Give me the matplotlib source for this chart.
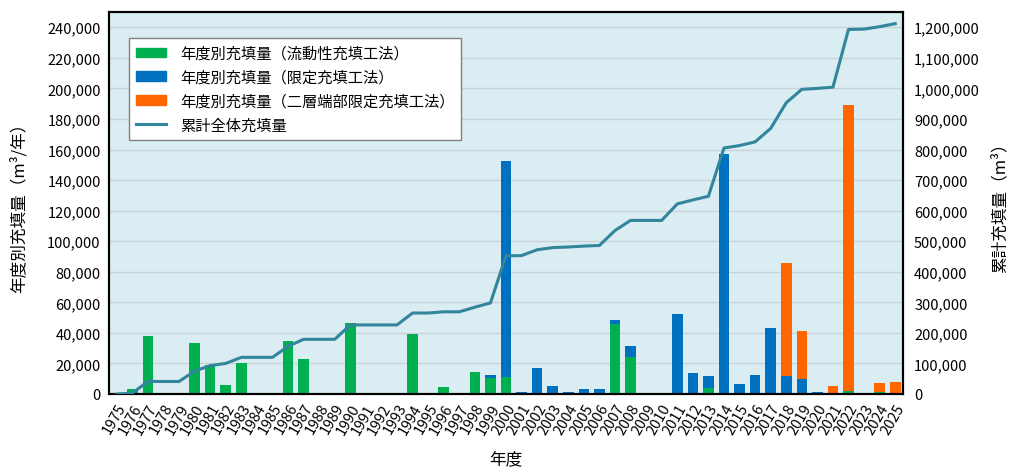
import matplotlib
matplotlib.use("Agg")
import matplotlib.pyplot as plt
import numpy as np
from matplotlib.patches import Patch
from matplotlib.lines import Line2D
from matplotlib.ticker import FuncFormatter

plt.rcParams['font.family'] = ['Noto Sans CJK JP', 'DejaVu Sans']

years = list(range(1975, 2026))

# 年度別充填量 (m3/年)
green = [0, 3000, 38000, 0, 0, 33500, 19000, 6000, 20000, 0,
         0, 35000, 23000, 0, 0, 46500, 0, 0, 0, 39500,
         0, 4500, 0, 14500, 10500, 11000, 0, 0, 0, 0,
         0, 0, 46000, 24500, 0, 0, 0, 0, 4000, 0,
         0, 0, 0, 0, 0, 0, 0, 1800, 0, 1000,
         0]
blue = [0, 0, 0, 0, 0, 0, 0, 0, 0, 0,
        0, 0, 0, 0, 0, 0, 0, 0, 0, 0,
        0, 0, 0, 0, 2000, 141500, 1500, 17000, 5000, 1500,
        3000, 3000, 2500, 7000, 0, 0, 52500, 13500, 7500, 157000,
        6500, 12500, 43500, 11500, 10000, 1500, 0, 0, 0, 0,
        0]
orange = [0, 0, 0, 0, 0, 0, 0, 0, 0, 0,
          0, 0, 0, 0, 0, 0, 0, 0, 0, 0,
          0, 0, 0, 0, 0, 0, 0, 0, 0, 0,
          0, 0, 0, 0, 0, 0, 0, 0, 0, 0,
          0, 0, 0, 74500, 31000, 0, 5000, 187500, 600, 6500,
          8000]

# 累計全体充填量 (m3)
cumulative = [0, 3000, 41000, 41000, 41000, 75000, 93000, 100000, 120000, 120000,
              120000, 156000, 179000, 179000, 179000, 226000, 226000, 226000, 226000, 265000,
              265000, 269000, 269000, 284000, 298000, 452000, 453000, 472000, 479000, 481000,
              484000, 486000, 535000, 568000, 568000, 568000, 622000, 635000, 647000, 805000,
              813000, 825000, 869000, 953000, 997000, 1000000, 1004000, 1193000, 1194000, 1202000,
              1212000]

c_green = '#00B050'
c_blue = '#0070C0'
c_orange = '#FF6600'
c_line = '#31859C'

x = np.arange(len(years))
green = np.array(green)
blue = np.array(blue)
orange = np.array(orange)

fig = plt.figure(figsize=(10.24, 4.77), dpi=100)
ax = fig.add_axes([109/1024, 1-395/477, 794/1024, 382/477])
ax.set_facecolor('#DAEDF3')

w = 0.68
ax.bar(x, green, w, color=c_green, zorder=2)
ax.bar(x, blue, w, bottom=green, color=c_blue, zorder=2)
ax.bar(x, orange, w, bottom=green + blue, color=c_orange, zorder=2)

ax.set_xlim(-0.5, len(years) - 0.5)
ax.set_ylim(0, 250000)
ax.set_yticks(np.arange(0, 250001, 20000))
ax.yaxis.set_major_formatter(FuncFormatter(lambda v, p: f'{int(v):,}'))
ax.grid(axis='y', color='#C9D3D8', linewidth=1, zorder=0)
ax.set_axisbelow(True)
ax.set_xticks(x)
ax.set_xticklabels([str(y) for y in years], rotation=60, ha='right',
                   rotation_mode='anchor', fontsize=10.5)
ax.tick_params(axis='x', length=0, pad=5)
ax.tick_params(axis='y', length=0, labelsize=10.5, pad=6)
for s in ax.spines.values():
    s.set_linewidth(1.5)
    s.set_color('black')

ax.set_ylabel('年度別充填量（m³/年）', fontsize=12, labelpad=14)
ax.set_xlabel('年度', fontsize=12, labelpad=10)

ax2 = ax.twinx()
ax2.plot(x, cumulative, color=c_line, linewidth=2.2, zorder=3)
ax2.set_ylim(0, 1250000)
ax2.set_yticks(np.arange(0, 1250001, 100000))
ax2.yaxis.set_major_formatter(FuncFormatter(lambda v, p: f'{int(v):,}'))
ax2.tick_params(axis='y', length=0, labelsize=10.5, pad=8)
ax2.set_ylabel('累計充填量（m³）', fontsize=12, labelpad=8)
for s in ax2.spines.values():
    s.set_linewidth(1.5)
    s.set_color('black')

handles = [
    Patch(color=c_green, label='年度別充填量（流動性充填工法）'),
    Patch(color=c_blue, label='年度別充填量（限定充填工法）'),
    Patch(color=c_orange, label='年度別充填量（二層端部限定充填工法）'),
    Line2D([0], [0], color=c_line, linewidth=2.2, label='累計全体充填量'),
]
leg = ax2.legend(handles=handles, loc='upper left', bbox_to_anchor=(0.025, 0.932),
                 borderaxespad=0, fontsize=11, frameon=True, fancybox=False,
                 edgecolor='#808080', framealpha=1, handlelength=2.0,
                 handleheight=0.6, handletextpad=0.9, labelspacing=0.45,
                 borderpad=0.45)
leg.get_frame().set_linewidth(1)

fig.savefig('out.png', dpi=100)
